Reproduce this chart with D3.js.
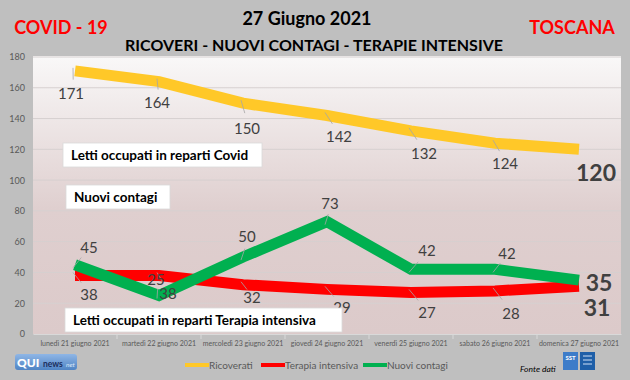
<!DOCTYPE html>
<html><head><meta charset="utf-8">
<script src="https://cdn.jsdelivr.net/npm/d3@7"></script>
<style>body{margin:0;background:#bfbfbf}svg{display:block}</style>
</head><body><svg id="c" width="630" height="380"></svg>
<script>
const categories = ["lunedì 21 giugno 2021","martedì 22 giugno 2021","mercoledì 23 giugno 2021","giovedì 24 giugno 2021","venerdì 25 giugno 2021","sabato 26 giugno 2021","domenica 27 giugno 2021"];
const ricoverati = [171,164,150,142,132,124,120];
const terapiaIntensiva = [38,38,32,29,27,28,31];
const nuoviContagi = [45,25,50,73,42,42,35];
const yTicks = [0,20,40,60,80,100,120,140,160,180];
const seriesNames = ["Ricoverati","Terapia intensiva","Nuovi contagi"];

// layout: label offsets relative to points (as in the original picture)
const offY = {dx:[-4,-2,4,12,13,10,17], dy:[22,20,25,21,22,20,23]};
const offR = {dx:[14,9,9,15,16,16,18], dy:[18,17,12,18,20,22,21]};
const offG = {dx:[14,-3,4,3,16,12,20], dy:[-18,-17,-21,-19,-19,-16,2]};

const svg = d3.select("#c");
const FONT = "Lato, 'Open Sans', sans-serif";
const L=33, R=621, T=57, B=334;

const defs = svg.append("defs");
const g = defs.append("linearGradient").attr("id","bg").attr("x1",0).attr("y1",0).attr("x2",0).attr("y2",1);
g.append("stop").attr("offset","0%").attr("stop-color","#f9f8f8");
g.append("stop").attr("offset","55%").attr("stop-color","#dfcfcf");
g.append("stop").attr("offset","100%").attr("stop-color","#dccaca");
const lgGrad = defs.append("linearGradient").attr("id","logo").attr("x1",0).attr("y1",0).attr("x2",0).attr("y2",1);
lgGrad.append("stop").attr("offset","0%").attr("stop-color","#8fb6e6");
lgGrad.append("stop").attr("offset","100%").attr("stop-color","#4f84c4");

svg.append("rect").attr("width",630).attr("height",380).attr("fill","#bfbfbf");
svg.append("rect").attr("x",L).attr("y",T-1).attr("width",R-L).attr("height",B-T+1).attr("fill","url(#bg)");

const x = d3.scaleBand().domain(categories).range([L,R]);
const y = d3.scaleLinear().domain([0,180]).range([B,T]);
const cx = (d,i)=>x(categories[i])+x.bandwidth()/2;

// gridlines
svg.append("g").selectAll("line").data(yTicks.filter(d=>d>0)).join("line")
  .attr("x1",L).attr("x2",R).attr("y1",d=>y(d)).attr("y2",d=>y(d))
  .attr("stroke","#d6d0d0").attr("stroke-width",1);

// y axis
const ya = svg.append("g").attr("transform",`translate(${L},0)`)
  .call(d3.axisLeft(y).tickValues(yTicks).tickSize(0).tickPadding(8));
ya.select(".domain").remove();
ya.selectAll("text").attr("fill","#595959").style("font-family",FONT).style("font-size","9px");

// x axis
const xa = svg.append("g").attr("transform",`translate(0,${B})`)
  .call(d3.axisBottom(x).tickSize(0).tickPadding(7));
xa.select(".domain").attr("stroke","#d9d9d9");
xa.selectAll("text").attr("fill","#595959").style("font-family",FONT).style("font-size","7px");
svg.append("g").selectAll("line").data(categories.slice(1)).join("line")
  .attr("x1",d=>x(d)).attr("x2",d=>x(d)).attr("y1",B).attr("y2",B+5).attr("stroke","#d9d9d9");

const line = d3.line().x(cx).y(d=>y(d)).curve(d3.curveLinear);
function drawSeries(data,color,w){
  svg.append("path").datum(data).attr("d",line).attr("fill","none")
    .attr("stroke",color).attr("stroke-width",w).attr("stroke-linejoin","miter").attr("stroke-linecap","butt");
}
drawSeries(terapiaIntensiva,"#ff0000",11);
drawSeries(ricoverati,"#ffc828",11);
drawSeries(nuoviContagi,"#00b050",11);

function labels(data,off){
  const gg = svg.append("g");
  data.forEach((v,i)=>{
    const px=cx(v,i), py=y(v), lx=px+off.dx[i], ly=py+off.dy[i];
    const last = i===data.length-1;
    if(!last){
      const s = off.dy[i]>0?1:-1;
      gg.append("line").attr("x1",px-2).attr("y1",py-3*s).attr("x2",px+off.dx[i]*0.45).attr("y2",py+off.dy[i]*0.4)
        .attr("stroke","#a6a6a6").attr("stroke-width",0.8);
    }
    gg.append("text").attr("x",lx).attr("y",ly).attr("text-anchor","middle").attr("dominant-baseline","central")
      .attr("fill","#404040").style("font-family",FONT)
      .style("font-size",last?"23px":"15px").style("font-weight",last?"bold":"normal").text(v);
  });
}
labels(ricoverati,offY);
labels(terapiaIntensiva,offR);
labels(nuoviContagi,offG);

// annotation boxes
function box(x0,y0,w,h,txt){
  svg.append("rect").attr("x",x0).attr("y",y0).attr("width",w).attr("height",h)
    .attr("fill","#ffffff").attr("stroke","#d9d9d9").attr("stroke-width",0.8);
  svg.append("text").attr("x",x0+8).attr("y",y0+h/2).attr("dominant-baseline","central")
    .style("font-family",FONT).style("font-weight","bold").style("font-size","13.5px").attr("fill","#000").text(txt);
}
box(63,143,199,24,"Letti occupati in reparti Covid");
box(66,185,104,24,"Nuovi contagi");
box(65,308,277,24,"Letti occupati in reparti Terapia intensiva");

// titles
svg.append("text").attr("x",307).attr("y",18).attr("text-anchor","middle").attr("dominant-baseline","central")
  .style("font-family",FONT).style("font-weight","bold").style("font-size","18px").attr("fill","#000").text("27 Giugno 2021");
svg.append("text").attr("x",314).attr("y",44).attr("text-anchor","middle").attr("dominant-baseline","central")
  .style("font-family",FONT).style("font-weight","bold").style("font-size","16px").attr("fill","#000").text("RICOVERI - NUOVI CONTAGI - TERAPIE INTENSIVE");
svg.append("text").attr("x",61).attr("y",27).attr("text-anchor","middle").attr("dominant-baseline","central")
  .style("font-family",FONT).style("font-weight","bold").style("font-size","18px").attr("fill","#ff0000").text("COVID - 19");
svg.append("text").attr("x",572).attr("y",27).attr("text-anchor","middle").attr("dominant-baseline","central")
  .style("font-family",FONT).style("font-weight","bold").style("font-size","18px").attr("fill","#ff0000").text("TOSCANA");

// legend
const legColors = ["#ffc828","#ff0000","#00b050"];
const legX = [185,261,363];
seriesNames.forEach((n,i)=>{
  svg.append("line").attr("x1",legX[i]).attr("x2",legX[i]+24).attr("y1",365).attr("y2",365)
    .attr("stroke",legColors[i]).attr("stroke-width",4);
  svg.append("text").attr("x",legX[i]+24).attr("y",365).attr("dominant-baseline","central")
    .style("font-family",FONT).style("font-size","10px").attr("fill","#595959").text(n);
});

// QUInews logo
const lg = svg.append("g");
lg.append("rect").attr("x",15).attr("y",354).attr("width",62).attr("height",16).attr("rx",3).attr("fill","url(#logo)");
lg.append("text").attr("x",17).attr("y",362.5).attr("dominant-baseline","central").style("font-family",FONT)
  .style("font-weight","900").style("font-size","12px").attr("fill","#fff").text("QUI");
lg.append("text").attr("x",43).attr("y",363.5).attr("dominant-baseline","central").style("font-family",FONT)
  .style("font-weight","bold").style("font-size","8.5px").attr("fill","#1b2d5c").text("news");
lg.append("text").attr("x",66).attr("y",364).attr("dominant-baseline","central").style("font-family",FONT)
  .style("font-style","italic").style("font-size","6.5px").attr("fill","#dbe8f8").text("net");

// Fonte dati + SST logo
svg.append("text").attr("x",520).attr("y",369).attr("dominant-baseline","central").style("font-family",FONT)
  .style("font-style","italic").style("font-size","8.5px").attr("fill","#000").text("Fonte dati");
svg.append("rect").attr("x",563).attr("y",352).attr("width",15).attr("height",18).attr("fill","#3d7cc9");
svg.append("text").attr("x",570.5).attr("y",357).attr("text-anchor","middle").attr("dominant-baseline","central")
  .style("font-family",FONT).style("font-weight","bold").style("font-size","6px").attr("fill","#fff").text("SST");
svg.append("rect").attr("x",580).attr("y",352).attr("width",15).attr("height",18).attr("fill","#1f5fa8");
[356,360,364].forEach(yy=>svg.append("line").attr("x1",583).attr("x2",592).attr("y1",yy).attr("y2",yy).attr("stroke","#cfe0f5").attr("stroke-width",1));
</script></body></html>
